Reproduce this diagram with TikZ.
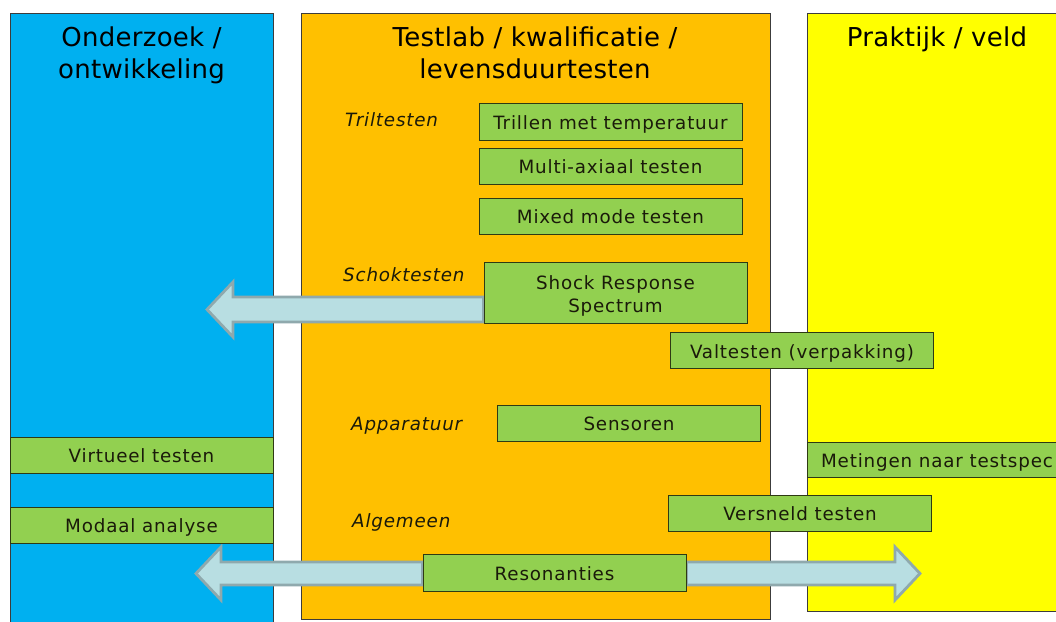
\documentclass[tikz,border=0pt]{standalone}
\usepackage{fontspec}
\setmainfont{DejaVu Sans}
\newfontfamily\boxfont[LetterSpace=4.5]{DejaVu Sans}
\newfontfamily\titlefont[LetterSpace=1]{DejaVu Sans}
\usetikzlibrary{calc}
\definecolor{colblue}{HTML}{00B0F0}
\definecolor{colorange}{HTML}{FFC000}
\definecolor{colyellow}{HTML}{FFFF00}
\definecolor{boxgreen}{HTML}{92D050}
\definecolor{arrowfill}{HTML}{B8DEE2}
\definecolor{arrowline}{HTML}{8FA9AD}
\definecolor{edgecol}{HTML}{3C3C3C}
\definecolor{boxedge}{HTML}{2E3A14}
\definecolor{boxtext}{HTML}{1A1A0A}
\pgfdeclarelayer{bg}
\pgfdeclarelayer{arrowlayer}
\pgfsetlayers{bg,arrowlayer,main}
\begin{document}
\begin{tikzpicture}[x=1pt,y=-1pt,
  column/.style={draw=edgecol, line width=0.8pt, anchor=north west, inner sep=0pt},
  greenbox/.style={draw=boxedge, fill=boxgreen, line width=0.9pt, minimum width=263pt,
    minimum height=36pt, inner sep=0pt, text height=15.5pt, text depth=0pt, text=boxtext,
    font=\boxfont\fontsize{18.3}{22}\selectfont},
  boxline/.style={anchor=base, inner sep=0pt, text=boxtext, font=\boxfont\fontsize{18.3}{22}\selectfont},
  title/.style={font=\titlefont\fontsize{26}{32}\selectfont, anchor=base},
  cat/.style={font=\boxfont\fontsize{18.3}{22}\selectfont\itshape, anchor=base west, inner sep=0pt, text=boxtext},
  barrow/.style={draw=arrowline, fill=arrowfill, line width=2.8pt, line join=miter}
]
\useasboundingbox (0,0) rectangle (1056,621);
\begin{pgfonlayer}{bg}
\fill[white] (0,0) rectangle (1056,621);
\node[column, fill=colblue, minimum width=263pt, minimum height=620pt] (colA) at (10,13) {};
\node[column, fill=colorange, minimum width=469pt, minimum height=606pt] (colB) at (301,13) {};
\node[column, fill=colyellow, minimum width=262pt, minimum height=598pt] (colC) at (807,13) {};
\end{pgfonlayer}

% titles
\node[title] (tA1) at (141.5,46) {Onderzoek /};
\node[title] (tA2) at (141.5,78) {ontwikkeling};
\node[title] (tB1) at (535,46) {Testlab / kwalificatie /};
\node[title] (tB2) at (535,78) {levensduurtesten};
\node[title] (tC1) at (937,46) {Praktijk / veld};

% category labels
\node[cat] (cTril) at (345,126) {Triltesten};
\node[cat] (cSchok) at (343,281.5) {Schoktesten};
\node[cat] (cApp) at (351,430.5) {Apparatuur};
\node[cat] (cAlg) at (352,527) {Algemeen};

% green boxes
\node[greenbox, minimum height=37pt] (trillen) at (610.5,121.5) {Trillen met temperatuur};
\node[greenbox] (multi) at (610.5,166) {Multi-axiaal testen};
\node[greenbox] (mixed) at (610.5,216) {Mixed mode testen};
\node[greenbox, minimum height=61pt] (srs) at (615.5,292.5) {};
\node[boxline] (srsL1) at ($(srs.center)+(0,-3.5)$) {Shock Response};
\node[boxline] (srsL2) at ($(srs.center)+(0,19.5)$) {Spectrum};
\node[greenbox] (val) at (802,350.5) {Valtesten (verpakking)};
\node[greenbox] (sens) at (629,423) {Sensoren};
\node[greenbox, minimum width=260pt, minimum height=35pt] (met) at (937,460) {Metingen naar testspec};
\node[greenbox] (versneld) at (800,513) {Versneld testen};
\node[greenbox] (virt) at (141.5,455) {Virtueel testen};
\node[greenbox] (modaal) at (141.5,525) {Modaal analyse};
\node[greenbox, minimum height=37pt] (reson) at (554.5,572.5) {Resonanties};

% block arrows
\coordinate (shockTail) at ($(srs.west)+(0,17)$);
\coordinate (shockTip) at (207,309.5);
\coordinate (resTailL) at ($(reson.west)+(0,1)$);
\coordinate (resTipL) at (196,573.5);
\coordinate (resTailR) at ($(reson.east)+(0,1)$);
\coordinate (resTipR) at (920,573.5);
\begin{pgfonlayer}{arrowlayer}
\draw[barrow] ($(shockTail)+(0,-12.5)$) -- ($(shockTip)+(26,-12.5)$) -- ($(shockTip)+(26,-27.5)$)
  -- (shockTip) -- ($(shockTip)+(26,27.5)$) -- ($(shockTip)+(26,12.5)$) -- ($(shockTail)+(0,12.5)$) -- cycle;
\draw[barrow] ($(resTailL)+(0,-11.5)$) -- ($(resTipL)+(25,-11.5)$) -- ($(resTipL)+(25,-26.5)$)
  -- (resTipL) -- ($(resTipL)+(25,26.5)$) -- ($(resTipL)+(25,11.5)$) -- ($(resTailL)+(0,11.5)$) -- cycle;
\draw[barrow] ($(resTailR)+(0,-11.5)$) -- ($(resTipR)+(-25,-11.5)$) -- ($(resTipR)+(-25,-26.5)$)
  -- (resTipR) -- ($(resTipR)+(-25,26.5)$) -- ($(resTipR)+(-25,11.5)$) -- ($(resTailR)+(0,11.5)$) -- cycle;
\end{pgfonlayer}
\end{tikzpicture}
\end{document}
